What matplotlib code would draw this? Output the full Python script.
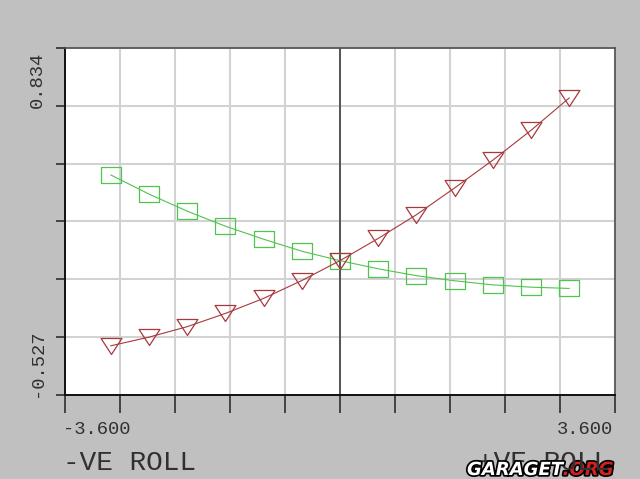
import matplotlib
matplotlib.use('Agg')
import matplotlib.pyplot as plt
import matplotlib.patheffects as pe
from matplotlib.path import Path
import numpy as np

# axis extents (printed in the corners of the plot)
x_min, x_max = -3.6, 3.6
y_min, y_max = -0.527, 0.834

# roll samples
roll = [-3.0, -2.5, -2.0, -1.5, -1.0, -0.5, 0.0, 0.5, 1.0, 1.5, 2.0, 2.5, 3.0]

# red curve (triangles)
red_vals = [-0.334, -0.300, -0.259, -0.207, -0.148, -0.078, 0.0,
            0.087, 0.180, 0.285, 0.394, 0.511, 0.638]
# green curve (squares)
green_vals = [0.336, 0.261, 0.194, 0.135, 0.084, 0.037, 0.0,
              -0.032, -0.059, -0.079, -0.095, -0.104, -0.109]

side_labels = ['-VE ROLL', '+VE ROLL']

bg = '#c0c0c0'
red = '#a8383c'
green = '#4fc44f'
txt = '#303030'
mono = 'Liberation Mono'

# wide box and wide down-triangle markers
box = Path([(-1.3, -1), (1.3, -1), (1.3, 1), (-1.3, 1), (-1.3, -1)],
           [Path.MOVETO, Path.LINETO, Path.LINETO, Path.LINETO, Path.CLOSEPOLY])
tri = Path([(-1.3, 1), (1.3, 1), (0, -1), (-1.3, 1)],
           [Path.MOVETO, Path.LINETO, Path.LINETO, Path.CLOSEPOLY])

fig = plt.figure(figsize=(6.4, 4.79), dpi=100, facecolor=bg)
ax = fig.add_axes([65 / 640, 1 - 395 / 479, 550 / 640, 347 / 479])
ax.set_facecolor('white')

ax.plot(roll, green_vals, color=green, lw=0.8, marker=box, ms=15,
        mfc='none', mec=green, mew=0.9, zorder=3)
ax.plot(roll, red_vals, color=red, lw=0.8, marker=tri, ms=15,
        mfc='none', mec=red, mew=0.9, zorder=4)

ax.set_xlim(x_min, x_max)
ax.set_ylim(y_min, y_max)
ax.set_xticks(np.linspace(x_min, x_max, 11))
ax.set_yticks(np.linspace(y_min, y_max, 7))
ax.tick_params(axis='x', length=13, width=1.1, color='#222222',
               direction='out', labelbottom=False)
ax.tick_params(axis='y', length=6.5, width=1.1, color='#222222',
               direction='out', labelleft=False)
ax.grid(True, color='#d2d2d2', lw=1.5)
ax.set_axisbelow(True)
ax.axvline(0, color='#404040', lw=1.2, zorder=2)

for s in ['left', 'bottom']:
    ax.spines[s].set_color('#111111')
    ax.spines[s].set_linewidth(1.4)
for s in ['top', 'right']:
    ax.spines[s].set_color('#505050')
    ax.spines[s].set_linewidth(1.2)


def fx(px):
    return px / 640


def fy(py):
    return 1 - py / 479


# corner values
fig.text(fx(63), fy(434), f'{x_min:.3f}', ha='left', va='baseline',
         fontsize=13.5, family=mono, color=txt)
fig.text(fx(613), fy(434), f'{x_max:.3f}', ha='right', va='baseline',
         fontsize=13.5, family=mono, color=txt)
fig.text(fx(42), fy(397), f'{y_min:.3f}', rotation=90, rotation_mode='anchor',
         ha='left', va='baseline', fontsize=13.5, family=mono, color=txt)
fig.text(fx(42), fy(52), f'{y_max:.3f}', rotation=90, rotation_mode='anchor',
         ha='right', va='baseline', fontsize=13.5, family=mono, color=txt)

fig.text(fx(63), fy(470), side_labels[0], ha='left', va='baseline',
         fontsize=20, family=mono, color=txt)
fig.text(fx(610), fy(470), side_labels[1], ha='right', va='baseline',
         fontsize=20, family=mono, color=txt)

# watermark
stroke = [pe.withStroke(linewidth=2.5, foreground='black')]
t1 = fig.text(fx(467), fy(475), 'GARAGET', ha='left', va='baseline',
              fontsize=13, weight='bold', style='italic', color='white',
              path_effects=stroke)
ax.annotate('.ORG', xy=(1, 0), xycoords=t1, ha='left', va='bottom',
            fontsize=13, weight='bold', style='italic', color='#d42020',
            path_effects=stroke, annotation_clip=False)

fig.savefig('out.png', dpi=100, facecolor=bg)
